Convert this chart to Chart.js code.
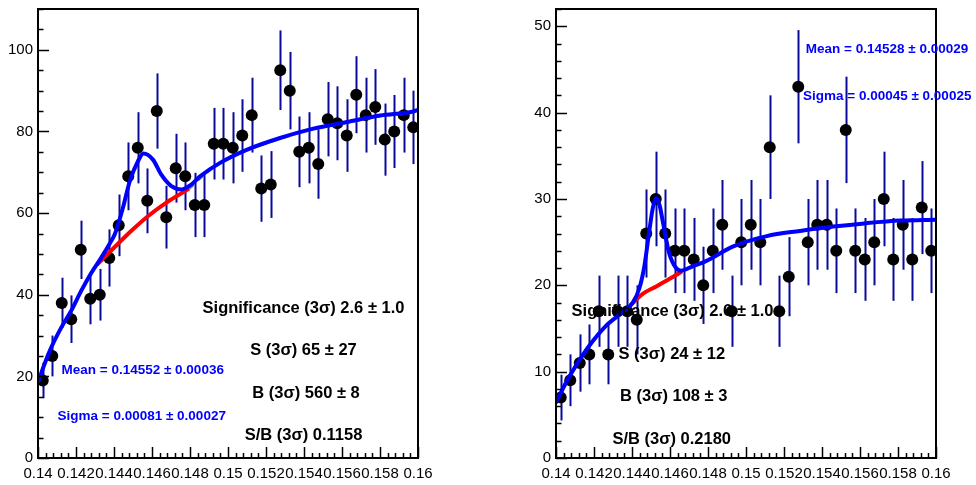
<!DOCTYPE html>
<html lang="en">
<head>
<meta charset="UTF-8">
<title>Invariant mass fits</title>
<script src="https://cdn.jsdelivr.net/npm/chart.js"></script>
<style>
    body { margin: 0; background: #fff; }
    #wrap { position: relative; width: 976px; height: 485px; }
    .pad { position: absolute; top: 0; }
</style>
</head>
<body>
<div id="wrap">
    <canvas id="left" class="pad" width="488" height="485" style="left:0"></canvas>
    <canvas id="right" class="pad" width="488" height="485" style="left:488px"></canvas>
</div>
<script>
// 40 bins of 0.0005 between 0.14 and 0.16
const binCentres = [
    0.14025, 0.14075, 0.14125, 0.14175, 0.14225, 0.14275, 0.14325, 0.14375, 0.14425, 0.14475,
    0.14525, 0.14575, 0.14625, 0.14675, 0.14725, 0.14775, 0.14825, 0.14875, 0.14925, 0.14975,
    0.15025, 0.15075, 0.15125, 0.15175, 0.15225, 0.15275, 0.15325, 0.15375, 0.15425, 0.15475,
    0.15525, 0.15575, 0.15625, 0.15675, 0.15725, 0.15775, 0.15825, 0.15875, 0.15925, 0.15975
];
const xTickValues = [0.14, 0.142, 0.144, 0.146, 0.148, 0.15, 0.152, 0.154, 0.156, 0.158, 0.16];
const xTickLabels = ['0.14', '0.142', '0.144', '0.146', '0.148', '0.15', '0.152', '0.154', '0.156', '0.158', '0.16'];

// left pad
const leftCounts = [
    19, 25, 38, 34, 51, 39, 40, 49, 57, 69,
    76, 63, 85, 59, 71, 69, 62, 62, 77, 77,
    76, 79, 84, 66, 67, 95, 90, 75, 76, 72,
    83, 82, 79, 89, 84, 86, 78, 80, 84, 81
];
const leftFitX = [0.1400, 0.14035, 0.1407, 0.14123, 0.14175, 0.14228, 0.14281, 0.14333, 0.14377, 0.14404,
    0.14447, 0.14483, 0.14526, 0.14555, 0.14605, 0.14649, 0.14702, 0.14754, 0.14807, 0.14853,
    0.14958, 0.15098, 0.15274, 0.15449, 0.15625, 0.158, 0.15975, 0.16];
const leftFitY = [18.5, 23.1, 27.1, 32.0, 36.1, 41.0, 45.4, 49.1, 52.5, 54.8,
    61.3, 67.8, 72.7, 74.6, 73.1, 69.4, 66.6, 65.8, 67.0, 69.0,
    72.3, 75.5, 78.4, 80.7, 82.3, 83.9, 84.9, 85.3];
const leftBgX = [0.1400, 0.14035, 0.1407, 0.14123, 0.14175, 0.14228, 0.14281, 0.1431, 0.1440, 0.1449,
    0.1458, 0.1467, 0.1475, 0.1480, 0.14853, 0.14958, 0.15098, 0.15274, 0.15449, 0.15625,
    0.158, 0.15975, 0.16];
const leftBgY = [18.5, 23.1, 27.1, 32.0, 36.1, 41.0, 45.3, 47.3, 51.5, 55.6,
    59.3, 62.4, 64.7, 66.2, 68.6, 72.2, 75.4, 78.3, 80.6, 82.2,
    83.8, 84.8, 85.2];
const leftRedX = [0.14309, 0.1440, 0.1449, 0.1458, 0.1467, 0.1475, 0.14795];
const leftRedY = [47.3, 51.5, 55.6, 59.3, 62.4, 64.7, 66.0];
const leftYTicks = [0, 20, 40, 60, 80, 100];
const leftNotes = [
    ['Significance (3σ) 2.6 ± 1.0', 303.5, 308.5, 'k'],
    ['S (3σ) 65 ± 27', 303.5, 350, 'k'],
    ['B (3σ) 560 ± 8', 306, 393.5, 'k'],
    ['S/B (3σ) 0.1158', 303.5, 435, 'k'],
    ['Mean = 0.14552 ± 0.00036', 142.7, 370, 'b'],
    ['Sigma = 0.00081 ± 0.00027', 141.7, 416.7, 'b']
];

// right pad
const rightCounts = [
    7, 9, 11, 12, 17, 12, 17, 17, 16, 26,
    30, 26, 24, 24, 23, 20, 24, 27, 17, 25,
    27, 25, 36, 17, 21, 43, 25, 27, 27, 24,
    38, 24, 23, 25, 30, 23, 27, 23, 29, 24
];
const rightFitX = [0.1400, 0.14053, 0.14105, 0.14175, 0.14263, 0.14351, 0.14404, 0.14438, 0.14465, 0.14491,
    0.14510, 0.14528, 0.14546, 0.14562, 0.14596, 0.14632, 0.14658, 0.14719, 0.14789, 0.14933,
    0.15109, 0.15284, 0.15459, 0.15635, 0.15811, 0.16];
const rightFitY = [6.4, 8.75, 10.7, 13.0, 15.3, 16.9, 18.0, 19.6, 22.2, 26.3,
    29.0, 30.1, 29.2, 27.4, 23.7, 22.0, 21.7, 22.2, 22.8, 24.5,
    25.7, 26.3, 26.8, 27.2, 27.5, 27.6];
const rightBgX = [0.1400, 0.14053, 0.14105, 0.14175, 0.14263, 0.14351, 0.14393, 0.1445, 0.1453, 0.1461,
    0.14663, 0.14719, 0.14789, 0.14933, 0.15109, 0.15284, 0.15459, 0.15635, 0.15811, 0.16];
const rightBgY = [6.4, 8.75, 10.7, 13.0, 15.3, 16.9, 17.7, 18.9, 19.9, 20.9,
    21.6, 22.2, 22.8, 24.5, 25.7, 26.3, 26.8, 27.2, 27.5, 27.6];
const rightRedX = [0.14393, 0.1445, 0.1453, 0.1461, 0.14663];
const rightRedY = [17.7, 18.9, 19.9, 20.9, 21.6];
const rightYTicks = [0, 10, 20, 30, 40, 50];
const rightNotes = [
    ['Significance (3σ) 2.6 ± 1.0', 184.5, 311.7, 'k'],
    ['S (3σ) 24 ± 12', 183.8, 354, 'k'],
    ['B (3σ) 108 ± 3', 185.7, 396.7, 'k'],
    ['S/B (3σ) 0.2180', 183.7, 439.3, 'k'],
    ['Mean = 0.14528 ± 0.00029', 399, 49.3, 'b'],
    ['Sigma = 0.00045 ± 0.00025', 399.2, 96.7, 'b']
];

const FONT = '"Liberation Sans", Arial, Helvetica, sans-serif';

function pairs(xs, ys) {
    return xs.map((x, i) => ({ x: x, y: ys[i] }));
}

// ROOT-like frame: error bars, inward ticks, latex notes
const rootPad = {
    id: 'rootPad',
    beforeDatasetsDraw(chart, args, opts) {
        const { ctx } = chart;
        const x = chart.scales.x, y = chart.scales.y;
        ctx.save();
        ctx.strokeStyle = '#0a0a9a';
        ctx.lineWidth = 2;
        opts.counts.forEach((n, i) => {
            const e = Math.sqrt(n); // poisson error
            const px = Math.round(x.getPixelForValue(binCentres[i])) + 0.5;
            ctx.beginPath();
            ctx.moveTo(px, y.getPixelForValue(n - e));
            ctx.lineTo(px, y.getPixelForValue(n + e));
            ctx.stroke();
        });
        ctx.restore();
    },
    afterDraw(chart, args, opts) {
        const { ctx, chartArea: a } = chart;
        const x = chart.scales.x, y = chart.scales.y;
        ctx.save();
        ctx.strokeStyle = '#000';
        ctx.lineWidth = 2;
        ctx.strokeRect(a.left, a.top, a.right - a.left, a.bottom - a.top);
        ctx.lineWidth = 1.5;
        ctx.beginPath();
        for (let k = 0; k <= 50; k++) {
            const v = 0.14 + k * 0.0004;
            const px = Math.round(x.getPixelForValue(v)) + 0.5;
            const len = k % 5 === 0 ? 11 : 5;
            ctx.moveTo(px, a.bottom);
            ctx.lineTo(px, a.bottom - len);
        }
        for (let v = 0; v <= y.max + 1e-9; v += opts.yMinor) {
            const py = Math.round(y.getPixelForValue(v)) + 0.5;
            const major = Math.abs(v / opts.yMajor - Math.round(v / opts.yMajor)) < 1e-6;
            ctx.moveTo(a.left, py);
            ctx.lineTo(a.left + (major ? 11 : 5.5), py);
        }
        ctx.stroke();

        ctx.textAlign = 'center';
        ctx.textBaseline = 'middle';
        opts.notes.forEach(n => {
            if (n[3] === 'b') {
                ctx.font = 'bold 13.5px ' + FONT;
                ctx.fillStyle = '#0000ff';
            } else {
                ctx.font = 'bold 16.5px ' + FONT;
                ctx.fillStyle = '#000';
            }
            ctx.fillText(n[0], n[1], n[2]);
        });
        ctx.restore();
    }
};

function makePad(id, d) {
    const yTicks = d.yTicks;
    return new Chart(document.getElementById(id), {
        type: 'scatter',
        data: {
            datasets: [
                {
                    data: pairs(d.fitX, d.fitY), showLine: true, borderColor: '#0000ff', borderWidth: 4,
                    pointRadius: 0, cubicInterpolationMode: 'monotone', order: 1
                },
                {
                    data: pairs(d.redX, d.redY), showLine: true, borderColor: '#ff0000', borderWidth: 4,
                    pointRadius: 0, cubicInterpolationMode: 'monotone', order: 2
                },
                {
                    data: pairs(d.bgX, d.bgY), showLine: true, borderColor: '#8a8a8a', borderWidth: 3,
                    borderDash: [7, 5], pointRadius: 0, cubicInterpolationMode: 'monotone', order: 3
                },
                {
                    data: pairs(binCentres, d.counts), showLine: false, pointRadius: 6,
                    pointBackgroundColor: '#000', pointBorderWidth: 0, order: 4
                }
            ]
        },
        options: {
            responsive: false,
            animation: false,
            events: [],
            layout: { padding: { top: 9, left: d.padLeft, right: d.padRight, bottom: 0 } },
            plugins: {
                legend: { display: false },
                tooltip: { enabled: false },
                rootPad: { counts: d.counts, notes: d.notes, yMajor: d.yMajor, yMinor: d.yMinor }
            },
            scales: {
                x: {
                    type: 'linear', min: 0.14, max: 0.16,
                    afterBuildTicks: s => { s.ticks = xTickValues.map(v => ({ value: v })); },
                    afterFit: s => { s.height = 27; s.paddingLeft = 0; s.paddingRight = 0; },
                    grid: { display: false, drawTicks: false },
                    border: { display: false },
                    ticks: {
                        autoSkip: false, maxRotation: 0, minRotation: 0, padding: 7, color: '#000',
                        font: { family: FONT, size: 15 },
                        callback: (v, i) => xTickLabels[i]
                    }
                },
                y: {
                    min: 0, max: d.yMax,
                    afterBuildTicks: s => { s.ticks = yTicks.map(v => ({ value: v })); },
                    afterFit: s => { s.width = 38; s.paddingTop = 0; s.paddingBottom = 0; },
                    grid: { display: false, drawTicks: false },
                    border: { display: false },
                    ticks: {
                        padding: 5, color: '#000',
                        font: { family: FONT, size: 15 },
                        callback: (v, i) => String(yTicks[i])
                    }
                }
            }
        },
        plugins: [rootPad]
    });
}

makePad('left', {
    counts: leftCounts, fitX: leftFitX, fitY: leftFitY, bgX: leftBgX, bgY: leftBgY,
    redX: leftRedX, redY: leftRedY, yTicks: leftYTicks, yMax: 110, yMajor: 20, yMinor: 5,
    notes: leftNotes, padLeft: 0, padRight: 70
});
makePad('right', {
    counts: rightCounts, fitX: rightFitX, fitY: rightFitY, bgX: rightBgX, bgY: rightBgY,
    redX: rightRedX, redY: rightRedY, yTicks: rightYTicks, yMax: 52, yMajor: 10, yMinor: 2,
    notes: rightNotes, padLeft: 30, padRight: 40
});
</script>
</body>
</html>
